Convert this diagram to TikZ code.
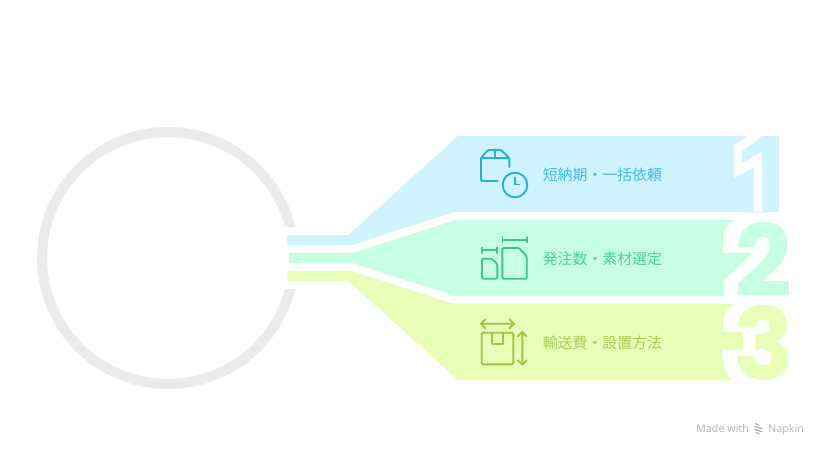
\documentclass[tikz,border=0pt]{standalone}
\usepackage{fontspec}
\newfontfamily\cjkfont{Noto Sans CJK JP}
\newfontfamily\digitfont[BoldFeatures={FakeBold=0.5}]{Poppins}
\newfontfamily\footfont{Open Sans}
\definecolor{ringgray}{HTML}{EBEBEB}
\definecolor{bandblue}{HTML}{CFF3FF}
\definecolor{bandgreen}{HTML}{C6FFE4}
\definecolor{bandyellow}{HTML}{E8FFB8}
\definecolor{inkblue}{HTML}{22B0DE}
\definecolor{inkgreen}{HTML}{3CC88A}
\definecolor{inkyellow}{HTML}{9CC843}
\definecolor{softblue}{HTML}{3FBBE3}
\definecolor{softgreen}{HTML}{4FCD95}
\definecolor{softyellow}{HTML}{A6CE55}
\definecolor{footgray}{HTML}{B4B4B4}
\tikzset{
  label text/.style={anchor=west,inner sep=0pt,font=\cjkfont\fontsize{14.9}{16}\selectfont},
  digit text/.style={inner sep=0pt,anchor=base,font=\digitfont\bfseries\fontsize{99}{99}\selectfont},
  icon line/.style={line width=1.9pt,line cap=round,line join=round,rounded corners=1.2pt},
  plain icon/.style={line width=1.9pt,line cap=round,line join=round},
  foot text/.style={inner sep=0pt,anchor=base west,text=footgray,font=\footfont\fontsize{10.8}{12}\selectfont}
}
\begin{document}
\begin{tikzpicture}[x=1pt,y=-1pt]
\useasboundingbox (0,0) rectangle (828,456);
\fill[white] (0,0) rectangle (828,456);
% ring
\draw[ringgray,line width=10pt] (168,258) circle[radius=126];
\fill[white] (278,227) rectangle (302,289);
% bands
\fill[bandblue] (458,136) -- (779,136) -- (779,212) -- (454,212) -- (352,245) -- (287.5,245) -- (287,235) -- (348.5,235) -- cycle;
\fill[bandgreen] (456,220) -- (735,220) .. controls (727,224) and (723,231) .. (723,237) -- (723,253) -- (753,253) -- (724,280) -- (724,296) -- (456,296) -- (352,263) -- (289,263) -- (289,253) -- (352,253) -- cycle;
\fill[bandyellow] (454,304) -- (735,304) .. controls (727,308) and (723,315) .. (723,322) -- (723,332) -- (743,332) -- (743,350) -- (722,350) -- (722,357) .. controls (723,367) and (727,375) .. (732,380) -- (458,380) -- (348.5,281) -- (287,281) -- (287.5,271) -- (352,271) -- cycle;
% digits
\node[digit text,text=bandblue] (d1) at (755,212) {1};
\node[digit text,text=bandgreen] (d2) at (763,296) {2};
\node[digit text,text=bandyellow] (d3) at (763.5,379) {3};
% outline of the digit one
\fill[white] (747,136) -- (762,136) -- (742,151) -- (742,163) -- (762,152) -- (762,212) -- (754,212) -- (754,167) -- (734,178) -- (734,145) -- cycle;
% labels
\node[label text,text=softblue] (t1) at (542.6,174.5) {短納期・一括依頼};
\node[label text,text=softgreen] (t2) at (542.6,258.5) {発注数・素材選定};
\node[label text,text=softyellow] (t3) at (542.6,342.5) {輸送費・設置方法};
% icon 1
\begin{scope}[inkblue]
\draw[icon line] (509.3,167) -- (509.3,158) -- (501,150) -- (488,150) -- (481,158) -- (481,181) -- (497.7,181);
\draw[plain icon] (481,158) -- (509.3,158) (495,150) -- (495,158);
\draw[plain icon] (515,185) circle[radius=12.3];
\draw[plain icon] (515,177.5) -- (515,184.5) -- (519.5,184.5);
\end{scope}
% icon 2
\begin{scope}[inkgreen]
\draw[plain icon] (502.5,237) -- (502.5,242.4) (526.7,237) -- (526.7,242.4) (502.5,239.7) -- (526.7,239.7);
\draw[plain icon] (481.7,247.5) -- (481.7,253) (497.3,247.5) -- (497.3,253) (481.7,250.3) -- (497.3,250.3);
\draw[icon line] (482,278.7) -- (482,258.7) -- (491.7,258.7) -- (497.3,264) -- (497.3,278.7) -- cycle;
\draw[icon line] (502.3,278.7) -- (502.3,248) -- (519,248) -- (526.7,256.3) -- (526.7,278.7) -- cycle;
\end{scope}
% icon 3
\begin{scope}[inkyellow]
\draw[plain icon] (481,323.7) -- (514,323.7) (485.5,319.2) -- (481,323.7) -- (485.5,328.2) (509.5,319.2) -- (514,323.7) -- (509.5,328.2);
\draw[icon line] (481.7,332.7) rectangle (513.3,364.3);
\draw[plain icon] (492.3,332.7) -- (492.3,344.3) -- (503.3,344.3) -- (503.3,332.7);
\draw[plain icon] (522.3,332) -- (522.3,364.7) (517.8,336.5) -- (522.3,332) -- (526.8,336.5) (517.8,360.2) -- (522.3,364.7) -- (526.8,360.2);
\end{scope}
% footer
\node[foot text] (f1) at (696,432) {Made with};
\node[foot text] (f2) at (768,432) {Napkin};
\draw[footgray,line width=1.3pt] (755,423.5) -- (759,425) (754.5,426.3) -- (762.5,428.8) (754.5,429.3) -- (762.5,431.8) (755.5,432.3) -- (759.5,433.8);
\end{tikzpicture}
\end{document}
